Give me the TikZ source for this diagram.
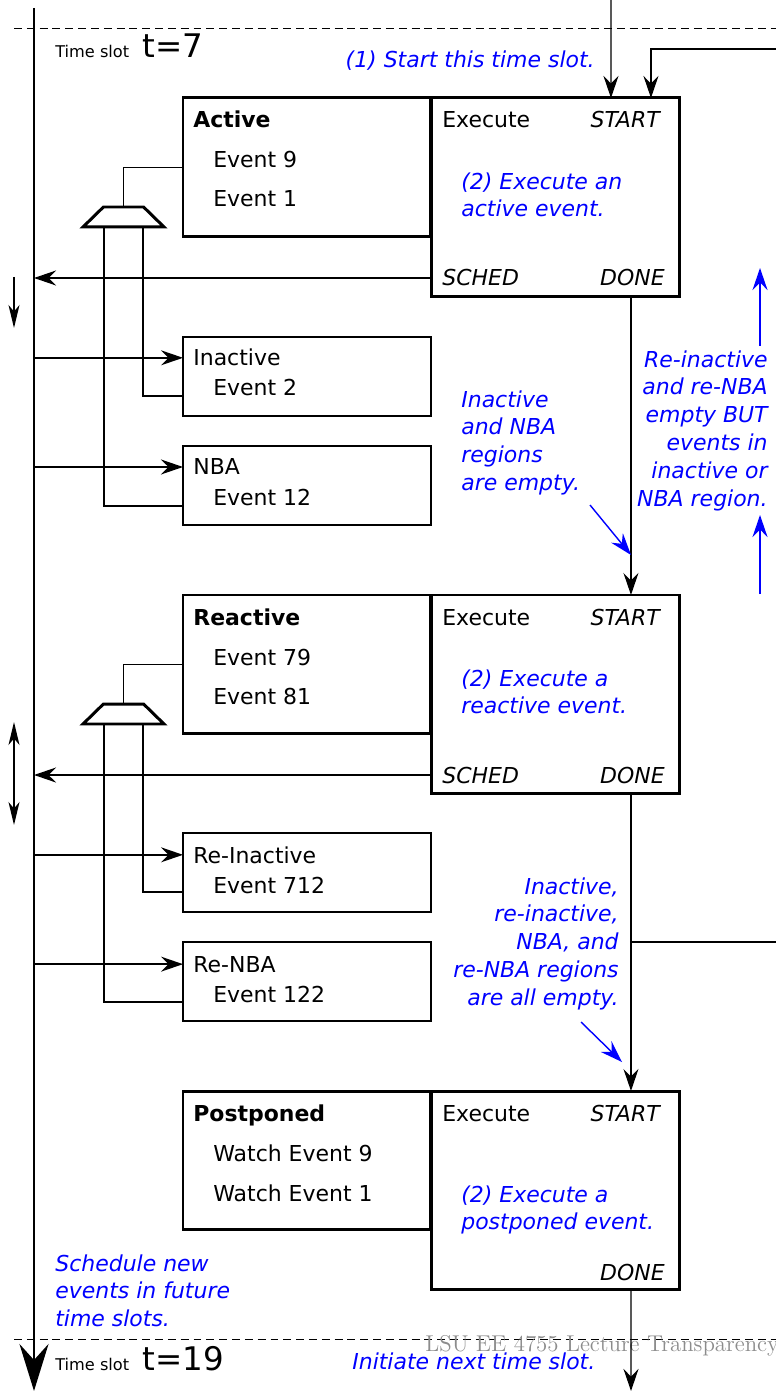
\documentclass[tikz,border=0pt]{standalone}
\usepackage{fontspec}
\setmainfont{DejaVu Sans}
\usetikzlibrary{arrows.meta,shapes.geometric}

\tikzset{
    tip/.tip={Stealth[length=0.44cm, width=0.3cm, inset=0.15cm]},
    stip/.tip={Stealth[length=0.46cm, width=0.22cm, inset=0.13cm]},
    wire/.style={line width=0.8pt},
    arr/.style={line width=0.8pt, -tip},
    barr/.style={arr, blue},
    sarr/.style={line width=0.8pt, -stip},
    note/.style={text=blue, font=\fontsize{12.5}{15.9}\selectfont\itshape, inner sep=0pt},
    lbl/.style={anchor=base west, inner sep=0pt},
    ilbl/.style={lbl, font=\fontsize{12.5}{15}\selectfont\itshape},
    blbl/.style={lbl, font=\fontsize{12.5}{15}\selectfont\bfseries},
    qbox/.style={draw, line width=1.7pt, anchor=north west, inner sep=0pt, outer sep=0pt,
        minimum width=4.96cm, minimum height=2.78cm},
    xbox/.style={draw, line width=1.7pt, anchor=north west, inner sep=0pt, outer sep=0pt,
        minimum width=4.98cm, minimum height=3.98cm},
    rbox/.style={draw, line width=1pt, anchor=north west, inner sep=0pt, outer sep=0pt,
        minimum width=4.96cm, minimum height=1.58cm},
    mux/.style={draw, line width=1.7pt, trapezium, trapezium stretches=true,
        trapezium left angle=63, trapezium right angle=63, outer sep=0pt,
        minimum width=1.62cm, minimum height=0.4cm, inner sep=1pt},
    slotline/.style={line width=0.5pt, dash pattern=on 4.5pt off 2.8pt},
}

\begin{document}
\begin{tikzpicture}[x=0.02cm, y=-0.02cm, font=\fontsize{12.5}{15}\selectfont]
    \useasboundingbox (0,0) rectangle (776,1391);

    % time slot borders and the time axis
    \draw[slotline] (14,28) -- (776,28);
    \draw[slotline] (14,1339) -- (776,1339);
    \node[anchor=base west, inner sep=0pt, text=black!45, font=\fontfamily{lmr}\fontsize{13}{15}\selectfont]
        (wmark) at (425,1351) {LSU EE 4755 Lecture Transparency};
    \coordinate (tl0) at (34,8);
    \coordinate (tl1) at (34,1391);
    \draw[line width=1.7pt, -{Stealth[length=0.94cm, width=0.58cm, inset=0.32cm]}] (tl0) -- (tl1);

    \node[lbl, font=\fontsize{9.2}{11}\selectfont] (ts7) at (55,58) {Time slot};
    \node[lbl, font=\fontsize{18.5}{22}\selectfont] (t7) at (142,58) {t=7};
    \node[lbl, font=\fontsize{9.2}{11}\selectfont] (ts19) at (55,1370) {Time slot};
    \node[lbl, font=\fontsize{18.5}{22}\selectfont] (t19) at (142,1370) {t=19};

    \node[note, anchor=base east] (startnote) at (595,68) {(1) Start this time slot.};
    \node[note, anchor=base west] (nextnote) at (352,1369) {Initiate next time slot.};
    \node[note, anchor=north west, align=left] (schednote) at (55,1254)
        {Schedule new\\events in future\\time slots.};

    % active region
    \node[qbox] (actq) at (183,98) {};
    \node[xbox] (actx) at (431,98) {};
    \node[blbl] (actT) at (193,128) {Active};
    \node[lbl] (actE1) at (213,168) {Event 9};
    \node[lbl] (actE2) at (213,207) {Event 1};
    \node[lbl] (actX) at (442,128) {Execute};
    \node[ilbl, anchor=base east] (actS) at (660,128) {START};
    \node[note, anchor=north west, align=left] (actN) at (461,172) {(2) Execute an\\active event.};
    \node[ilbl] (actSch) at (442,286) {SCHED};
    \node[ilbl, anchor=base east] (actD) at (665,286) {DONE};

    \node[rbox] (inq) at (183,337) {};
    \node[lbl] (inT) at (193,366) {Inactive};
    \node[lbl] (inE) at (213,396) {Event 2};
    \node[rbox] (nbaq) at (183,446) {};
    \node[lbl] (nbaT) at (193,475) {NBA};
    \node[lbl] (nbaE) at (213,505) {Event 12};

    \node[mux] (amux) at (123.5,217) {};
    \draw[wire] (amux.north) |- (actq.west);
    \draw[wire] ([xshift=0.39cm]amux.south) |- ([yshift=0.4cm]inq.south west);
    \draw[wire] ([xshift=-0.39cm]amux.south) |- ([yshift=0.38cm]nbaq.south west);

    \draw[arr] (actx.west |- actSch.west) -- (tl0 |- actSch.west);
    \draw[arr] (tl0 |- inT.west) -- (inq.west |- inT.west);
    \draw[arr] (tl0 |- nbaT.west) -- (nbaq.west |- nbaT.west);
    \draw[sarr] (14,277) -- (14,328);

    % reactive region
    \node[qbox] (reactq) at (183,595) {};
    \node[xbox] (reactx) at (431,595) {};
    \node[blbl] (reactT) at (193,625) {Reactive};
    \node[lbl] (reactE1) at (213,665) {Event 79};
    \node[lbl] (reactE2) at (213,704) {Event 81};
    \node[lbl] (reactX) at (442,625) {Execute};
    \node[ilbl, anchor=base east] (reactS) at (660,625) {START};
    \node[note, anchor=north west, align=left] (reactN) at (461,669) {(2) Execute a\\reactive event.};
    \node[ilbl] (reactSch) at (442,783) {SCHED};
    \node[ilbl, anchor=base east] (reactD) at (665,783) {DONE};

    \node[rbox] (reinq) at (183,833) {};
    \node[lbl] (reinT) at (193,863) {Re-Inactive};
    \node[lbl] (reinE) at (213,893) {Event 712};
    \node[rbox] (renbaq) at (183,942) {};
    \node[lbl] (renbaT) at (193,972) {Re-NBA};
    \node[lbl] (renbaE) at (213,1002) {Event 122};

    \node[mux] (rmux) at (123.5,714) {};
    \draw[wire] (rmux.north) |- (reactq.west);
    \draw[wire] ([xshift=0.39cm]rmux.south) |- ([yshift=0.4cm]reinq.south west);
    \draw[wire] ([xshift=-0.39cm]rmux.south) |- ([yshift=0.38cm]renbaq.south west);

    \draw[arr] (reactx.west |- reactSch.west) -- (tl0 |- reactSch.west);
    \draw[arr] (tl0 |- reinT.west) -- (reinq.west |- reinT.west);
    \draw[arr] (tl0 |- renbaT.west) -- (renbaq.west |- renbaT.west);
    \draw[line width=0.8pt, stip-stip] (14,722) -- (14,825);

    % postponed region
    \node[qbox] (postq) at (183,1091) {};
    \node[xbox] (postx) at (431,1091) {};
    \node[blbl] (postT) at (193,1121) {Postponed};
    \node[lbl] (postE1) at (213,1161) {Watch Event 9};
    \node[lbl] (postE2) at (213,1201) {Watch Event 1};
    \node[lbl] (postX) at (442,1121) {Execute};
    \node[ilbl, anchor=base east] (postS) at (660,1121) {START};
    \node[note, anchor=north west, align=left] (postN) at (461,1185) {(2) Execute a\\postponed event.};
    \node[ilbl, anchor=base east] (postD) at (665,1280) {DONE};

    % flow between the regions
    \coordinate (slotin) at (611,0);
    \coordinate (retin) at (776,49);
    \coordinate (retout) at (776,942);
    \coordinate (slotout) at (631,1391);
    \coordinate (adone) at ([xshift=1.51cm]actx.south);
    \coordinate (rdone) at ([xshift=1.51cm]reactx.south);
    \coordinate (pdone) at ([xshift=1.51cm]postx.south);
    \draw[arr] (slotin) -- ([xshift=1.11cm]actx.north);
    \draw[arr] (retin) -| ([xshift=1.91cm]actx.north);
    \draw[arr] (adone) -- ([xshift=1.51cm]reactx.north);
    \draw[arr] (rdone) -- ([xshift=1.51cm]postx.north);
    \draw[wire] (rdone |- retout) -- (retout);
    \draw[arr] (pdone) -- (slotout);

    % conditions on the transitions
    \node[note, anchor=north west, align=left] (inNote) at (461,390)
        {Inactive\\and NBA\\regions\\are empty.};
    \coordinate (inA0) at (590,505);
    \coordinate (inA1) at (631,555);
    \draw[barr] (inA0) -- (inA1);

    \node[note, anchor=north east, align=right] (reNote) at (768,350)
        {Re-inactive\\and re-NBA\\empty BUT\\events in\\inactive or\\NBA region.};
    \coordinate (upA0) at (760,346);
    \coordinate (upA1) at (760,268);
    \coordinate (upB0) at (760,594);
    \coordinate (upB1) at (760,515);
    \draw[barr] (upA0) -- (upA1);
    \draw[barr] (upB0) -- (upB1);

    \node[note, anchor=north east, align=right] (allNote) at (619,877)
        {Inactive,\\re-inactive,\\NBA, and\\re-NBA regions\\are all empty.};
    \coordinate (allA0) at (581,1022);
    \coordinate (allA1) at (622,1062);
    \draw[barr] (allA0) -- (allA1);
\end{tikzpicture}
\end{document}
